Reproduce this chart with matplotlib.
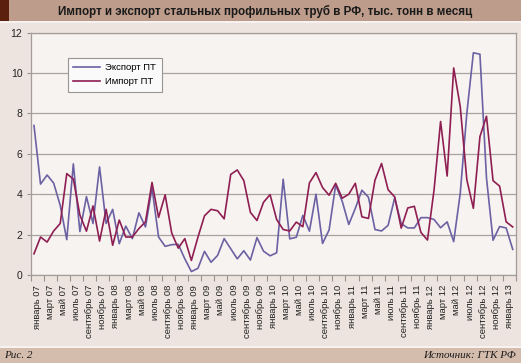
import numpy as np
import matplotlib
matplotlib.use("Agg")
import matplotlib.pyplot as plt
from matplotlib.patches import Rectangle

months = ["январь", "февраль", "март", "апрель", "май", "июнь", "июль",
          "август", "сентябрь", "октябрь", "ноябрь", "декабрь"]
years = ["07", "08", "09", "10", "11", "12", "13"]
categories = [f"{m} {y}" for y in years for m in months][:74]

export_pt = [7.4, 4.5, 4.95, 4.55, 3.45, 1.75, 5.5, 2.15, 3.88, 2.55,
             5.35, 2.55, 3.25, 1.55, 2.42, 1.8, 3.08, 2.38, 4.3, 1.88,
             1.42, 1.5, 1.52, 0.8, 0.17, 0.33, 1.17, 0.63, 0.97, 1.8,
             1.3, 0.8, 1.2, 0.74, 1.85, 1.18, 0.95, 1.1, 4.74, 1.79,
             1.87, 2.95, 2.17, 4.0, 1.56, 2.23, 4.45, 3.65, 2.5, 3.3,
             4.2, 3.85, 2.25, 2.18, 2.46, 3.82, 2.54, 2.33, 2.33, 2.84,
             2.84, 2.75, 2.34, 2.63, 1.65, 4.05, 8.0, 11.0, 10.93, 4.8,
             1.72, 2.4, 2.33, 1.27]
import_pt = [1.05, 1.88, 1.63, 2.18, 2.55, 5.02, 4.75, 2.97, 2.17, 3.42,
             1.68, 3.25, 1.47, 2.72, 1.88, 1.88, 2.3, 2.63, 4.58, 2.85,
             3.97, 2.08, 1.33, 1.8, 0.72, 1.87, 2.93, 3.25, 3.18, 2.78,
             4.98, 5.2, 4.67, 3.1, 2.7, 3.6, 3.98, 2.75, 2.25, 2.18,
             2.62, 2.39, 4.56, 5.07, 4.33, 3.95, 4.54, 3.8, 4.0, 4.54,
             2.88, 2.8, 4.7, 5.52, 4.22, 3.87, 2.32, 3.32, 3.4, 2.11,
             1.73, 4.2, 7.6, 4.9, 10.25, 8.33, 4.72, 3.3, 6.85, 7.86,
             4.67, 4.4, 2.63, 2.38]

series_names = ["Экспорт ПТ", "Импорт ПТ"]
title = "Импорт и экспорт стальных профильных труб в РФ, тыс. тонн в месяц"
y_ticks = [0, 2, 4, 6, 8, 10, 12]

plt.rcParams['font.family'] = ['Liberation Sans', 'DejaVu Sans']

W, H = 521, 363
fig = plt.figure(figsize=(W / 100, H / 100), dpi=100)
fig.patch.set_facecolor("#ede4df")

# header bar
fig.patches.append(Rectangle((0, 1 - 21 / H), 1, 21 / H, transform=fig.transFigure,
                             facecolor="#bd9c8b", edgecolor="none", zorder=0))
fig.patches.append(Rectangle((0, 1 - 21 / H), 9 / W, 21 / H, transform=fig.transFigure,
                             facecolor="#5c200f", edgecolor="none", zorder=1))
fig.patches.append(Rectangle((0, 1 - 23 / H), 1, 2 / H, transform=fig.transFigure,
                             facecolor="#f7f2ef", edgecolor="none", zorder=0))
fig.text(265 / W, 1 - 11 / H, title, ha="center", va="center", fontsize=8.4,
         fontweight="bold", color="#1a1a1a")

# footer bar
fig.patches.append(Rectangle((0, 0), 1, 15 / H, transform=fig.transFigure,
                             facecolor="#d5bdae", edgecolor="none", zorder=0))
fig.patches.append(Rectangle((0, 15 / H), 1, 2 / H, transform=fig.transFigure,
                             facecolor="#f7f2ef", edgecolor="none", zorder=0))
fig.text(4 / W, 7.5 / H, "Рис. 2", ha="left", va="center", fontsize=8,
         style="italic", family=["Liberation Serif", "DejaVu Serif"], color="#1a1a1a")
fig.text(516 / W, 7.5 / H, "Источник: ГТК РФ", ha="right", va="center", fontsize=8,
         style="italic", family=["Liberation Serif", "DejaVu Serif"], color="#1a1a1a")

left, right = 30.7 / W, 516 / W
bottom, top = (H - 275) / H, (H - 32.6) / H
ax = fig.add_axes([left, bottom, right - left, top - bottom])
ax.set_facecolor("#f6f3f0")

x = np.arange(len(categories))
ax.plot(x, export_pt, color="#6b61a3", lw=1.2, label=series_names[0], zorder=3)
ax.plot(x, import_pt, color="#8f1e52", lw=1.2, label=series_names[1], zorder=3)

ax.set_xlim(-0.5, len(categories) - 0.5)
ax.set_ylim(0, 12)
ax.set_yticks(y_ticks)
ax.set_yticklabels([str(v) for v in y_ticks])
ax.yaxis.grid(True, color="#aaa39f", lw=0.9)
ax.set_axisbelow(True)

ax.set_xticks(np.arange(0.5, len(categories), 2))
ax.set_xticklabels(categories[::2], rotation=90, fontsize=6.8, color="#222222")
ax.set_xticks(np.arange(-0.5, len(categories) + 0.5, 2), minor=True)
ax.tick_params(axis="x", which="major", length=0, pad=7)
ax.tick_params(axis="x", which="minor", length=4, color="#999390", width=0.8, direction="out")
ax.tick_params(axis="y", length=3, color="#999390", width=0.8, labelsize=7.5,
               labelcolor="#222222", pad=3)

for s in ax.spines.values():
    s.set_color("#a39c98")
    s.set_linewidth(0.9)

leg = ax.legend(loc="upper left", bbox_to_anchor=(0.076, 0.897), borderaxespad=0,
                fontsize=6.8, frameon=True, fancybox=False, handlelength=2.8,
                handletextpad=0.6, borderpad=0.6, labelspacing=0.55)
leg.get_frame().set_facecolor("#fbfafa")
leg.get_frame().set_edgecolor("#9a9592")
leg.get_frame().set_linewidth(0.8)
leg.get_frame().set_alpha(1)

fig.savefig("out.png", dpi=100, facecolor=fig.get_facecolor())
